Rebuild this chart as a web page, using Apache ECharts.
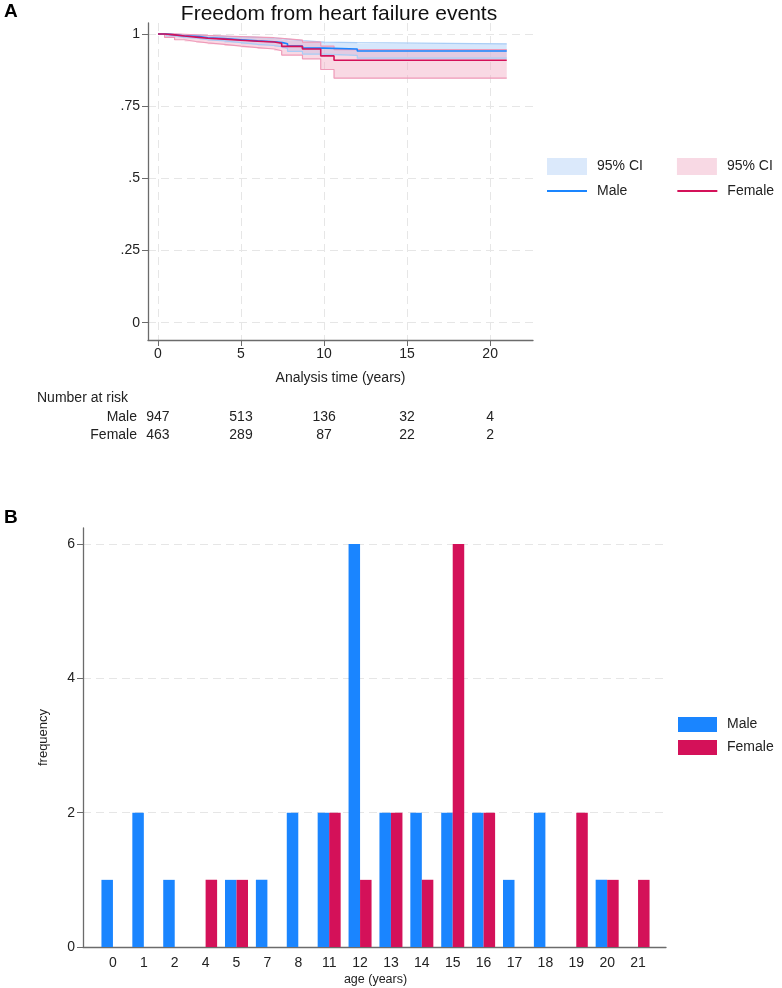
<!DOCTYPE html>
<html>
<head>
<meta charset="utf-8">
<script src="https://cdn.jsdelivr.net/npm/echarts@6/dist/echarts.min.js"></script>
<style>
  html, body { margin: 0; padding: 0; background: #fff; }
  #chart { width: 782px; height: 988px; }
</style>
</head>
<body>
<div id="chart"></div>
<script>
const FONT = '"Liberation Sans", Arial, sans-serif'

// Panel A - Kaplan-Meier, freedom from heart failure events
const maleTime  = [0, 0.5, 1, 1.5, 2.5, 3, 4, 5, 6, 7, 7.5, 7.8, 8.7, 10, 12, 21]
const maleSurv  = [1, .997, .994, .991, .987, .984, .980, .976, .973, .970, .966, .958, .951, .948, .941, .941]
const maleUpper = [1, .999, .998, .996, .994, .992, .990, .988, .986, .984, .982, .977, .972, .970, .966, .966]
const maleLower = [1, .993, .989, .985, .980, .976, .970, .964, .960, .955, .950, .940, .930, .926, .916, .916]

const femaleTime  = [0, 0.4, 1, 1.6, 2.3, 3, 4, 5, 6, 7, 7.45, 8.7, 9.8, 10.6, 21]
const femaleSurv  = [1, .997, .993, .989, .985, .982, .978, .975, .972, .968, .957, .948, .924, .909, .909]
const femaleUpper = [1, 1, .999, .997, .995, .993, .991, .989, .987, .985, .979, .972, .958, .946, .946]
const femaleLower = [1, .988, .980, .974, .969, .964, .958, .953, .948, .942, .927, .914, .877, .847, .847]

const riskTimes = [0, 5, 10, 15, 20]
const maleAtRisk = [947, 513, 136, 32, 4]
const femaleAtRisk = [463, 289, 87, 22, 2]
const survTicks = [0, 0.25, 0.5, 0.75, 1]
const survTickLabels = ['0', '.25', '.5', '.75', '1']

// Panel B - age at event, by sex
const ages = ['0', '1', '2', '4', '5', '7', '8', '11', '12', '13', '14', '15', '16', '17', '18', '19', '20', '21']
const maleCounts   = [1, 2, 1, 0, 1, 1, 2, 2, 6, 2, 2, 2, 2, 1, 2, 0, 1, 0]
const femaleCounts = [0, 0, 0, 1, 1, 0, 0, 2, 1, 2, 1, 6, 2, 0, 0, 2, 1, 1]
const freqTicks = [0, 2, 4, 6]

const BLUE = '#1A85FF'
const RED = '#D41159'
const AXIS = '#6b6b6b'
const GRIDLINE = { show: true, lineStyle: { color: '#e6e6e6', type: [8, 5], width: 1 } }

// plot-region margins (stata style padding around the data)
const xMinA = -0.6, xMaxA = 22.58
const yMinA = -0.06, yMaxA = 1.038
const yMaxB = 6.24

let chart = echarts.init(document.getElementById('chart'))

function stepPoints(time, vals) {
  return time.map((t, i) => [t, vals[i]])
}

function band(name, time, lower, upper, fill) {
  return {
    name: name,
    type: 'custom',
    xAxisIndex: 0,
    yAxisIndex: 0,
    silent: true,
    z: 1,
    data: [[0, 1]],
    renderItem: (params, api) => {
      const top = [], bottom = []
      for (let i = 0; i < time.length; i++) {
        const next = i + 1 < time.length ? time[i + 1] : time[i]
        top.push(api.coord([time[i], upper[i]]), api.coord([next, upper[i]]))
        bottom.push(api.coord([time[i], lower[i]]), api.coord([next, lower[i]]))
      }
      return {
        type: 'polygon',
        shape: { points: top.concat(bottom.reverse()) },
        style: { fill: fill }
      }
    }
  }
}

function stepLine(name, time, vals, color, width, z) {
  return {
    name: name,
    type: 'line',
    xAxisIndex: 0,
    yAxisIndex: 0,
    step: 'end',
    showSymbol: false,
    silent: true,
    z: z,
    lineStyle: { color: color, width: width },
    itemStyle: { color: color },
    data: stepPoints(time, vals)
  }
}

function riskAxis(counts, offset) {
  return {
    type: 'value', gridIndex: 0, position: 'bottom', offset: offset,
    min: xMinA, max: xMaxA,
    axisLine: { show: false, onZero: false }, axisTick: { show: false }, splitLine: { show: false },
    axisLabel: {
      customValues: riskTimes, margin: 0, fontSize: 14, fontFamily: FONT, color: '#222',
      formatter: v => String(counts[riskTimes.indexOf(v)])
    }
  }
}

const legendText = { fontSize: 14, fontFamily: FONT, color: '#222', padding: [0, 0, 0, 5] }

let option = {
  animation: false,
  textStyle: { fontFamily: FONT, color: '#222' },
  title: {
    text: 'Freedom from heart failure events',
    left: 334, top: -1, textAlign: 'center',
    textStyle: { fontSize: 21, fontWeight: 'normal', fontFamily: FONT, color: '#111' }
  },
  graphic: [
    { type: 'text', left: 4, top: 2, style: { text: 'A', font: 'bold 19px ' + FONT, fill: '#000' } },
    { type: 'text', left: 4, top: 508, style: { text: 'B', font: 'bold 19px ' + FONT, fill: '#000' } },
    { type: 'text', left: 37, top: 391, style: { text: 'Number at risk', font: '14px ' + FONT, fill: '#222' } },
    { type: 'text', right: 782 - 137, top: 410, style: { text: 'Male', font: '14px ' + FONT, fill: '#222', align: 'right' } },
    { type: 'text', right: 782 - 137, top: 428, style: { text: 'Female', font: '14px ' + FONT, fill: '#222', align: 'right' } }
  ],
  legend: [
    {
      left: 547, top: 158, padding: 0, orient: 'horizontal', itemWidth: 40, itemHeight: 17, itemGap: 34,
      selectedMode: false,
      textStyle: legendText,
      formatter: name => '95% CI',
      data: [
        { name: 'Male 95% CI', icon: 'rect', itemStyle: { color: '#dbe9fb', borderWidth: 0 } },
        { name: 'Female 95% CI', icon: 'rect', itemStyle: { color: '#f8d9e4', borderWidth: 0 } }
      ]
    },
    {
      left: 547, top: 184, padding: 0, orient: 'horizontal', itemWidth: 40, itemHeight: 2, itemGap: 50,
      selectedMode: false,
      textStyle: legendText,
      data: [
        { name: 'Male', icon: 'rect', itemStyle: { color: BLUE, borderWidth: 0 } },
        { name: 'Female', icon: 'rect', itemStyle: { color: RED, borderWidth: 0 } }
      ]
    },
    {
      left: 678, top: 717, padding: 0, orient: 'vertical', itemWidth: 39, itemHeight: 15, itemGap: 8,
      selectedMode: false,
      textStyle: legendText,
      data: [
        { name: 'Male', icon: 'rect', itemStyle: { color: BLUE, borderWidth: 0 } },
        { name: 'Female', icon: 'rect', itemStyle: { color: RED, borderWidth: 0 } }
      ]
    }
  ],
  grid: [
    { left: 148, right: 249, top: 23, bottom: 988 - 340 },
    { left: 83, right: 782 - 666, top: 528, bottom: 988 - 947 },
    { left: 97.5, right: 128.5, top: 528, bottom: 988 - 947 }
  ],
  xAxis: [
    {
      type: 'value', gridIndex: 0, min: xMinA, max: xMaxA,
      name: 'Analysis time (years)', nameLocation: 'middle', nameGap: 31,
      nameTextStyle: { fontSize: 14, fontFamily: FONT, color: '#222' },
      axisLine: { onZero: false, lineStyle: { color: AXIS, width: 1.3 } },
      axisTick: { customValues: riskTimes, length: 6, lineStyle: { color: AXIS } },
      axisLabel: { customValues: riskTimes, fontSize: 14, margin: 7, fontFamily: FONT, color: '#222' },
      splitLine: GRIDLINE
    },
    riskAxis(maleAtRisk, 70),
    riskAxis(femaleAtRisk, 88),
    {
      type: 'value', gridIndex: 1, min: 0, max: 1,
      axisLine: { onZero: false, lineStyle: { color: AXIS, width: 1.3 } },
      axisTick: { show: false }, axisLabel: { show: false }, splitLine: { show: false }
    },
    {
      type: 'category', gridIndex: 2, data: ages,
      name: 'age (years)', nameLocation: 'middle', nameGap: 26,
      nameTextStyle: { fontSize: 12.5, fontFamily: FONT, color: '#222' },
      axisLine: { show: false }, axisTick: { show: false },
      axisLabel: { fontSize: 14, margin: 9, fontFamily: FONT, color: '#222', interval: 0 }
    }
  ],
  yAxis: [
    {
      type: 'value', gridIndex: 0, min: yMinA, max: yMaxA,
      axisLine: { show: true, onZero: false, lineStyle: { color: AXIS, width: 1.3 } },
      axisTick: { show: true, customValues: survTicks, length: 6, lineStyle: { color: AXIS } },
      axisLabel: {
        customValues: survTicks, fontSize: 14, margin: 8, fontFamily: FONT, color: '#222',
        formatter: v => survTickLabels[survTicks.indexOf(v)]
      },
      splitLine: GRIDLINE
    },
    {
      type: 'value', gridIndex: 1, min: 0, max: yMaxB,
      name: 'frequency', nameLocation: 'middle', nameGap: 33, nameRotate: 90,
      nameTextStyle: { fontSize: 13, fontFamily: FONT, color: '#222' },
      axisLine: { show: true, onZero: false, lineStyle: { color: AXIS, width: 1.3 } },
      axisTick: { show: true, customValues: freqTicks, length: 6, lineStyle: { color: AXIS } },
      axisLabel: { customValues: freqTicks, fontSize: 14, margin: 8, fontFamily: FONT, color: '#222' },
      splitLine: GRIDLINE
    },
    {
      type: 'value', gridIndex: 2, min: 0, max: yMaxB, show: false
    }
  ],
  series: [
    band('Male 95% CI', maleTime, maleLower, maleUpper, 'rgba(180,212,250,0.55)'),
    stepLine('Male upper', maleTime, maleUpper, '#a9cdf6', 1.2, 2),
    stepLine('Male lower', maleTime, maleLower, '#a9cdf6', 1.2, 2),
    band('Female 95% CI', femaleTime, femaleLower, femaleUpper, 'rgba(242,170,196,0.45)'),
    stepLine('Female upper', femaleTime, femaleUpper, '#ef9ab8', 1.2, 3),
    stepLine('Female lower', femaleTime, femaleLower, '#ef9ab8', 1.2, 3),
    stepLine('Male', maleTime, maleSurv, BLUE, 1.6, 5),
    stepLine('Female', femaleTime, femaleSurv, RED, 1.6, 5),
    {
      name: 'Male', type: 'bar', xAxisIndex: 4, yAxisIndex: 2,
      barWidth: 11.5, barGap: '0%', itemStyle: { color: BLUE }, data: maleCounts
    },
    {
      name: 'Female', type: 'bar', xAxisIndex: 4, yAxisIndex: 2,
      barWidth: 11.5, barGap: '0%', itemStyle: { color: RED }, data: femaleCounts
    }
  ]
}

chart.setOption(option)
</script>
</body>
</html>
